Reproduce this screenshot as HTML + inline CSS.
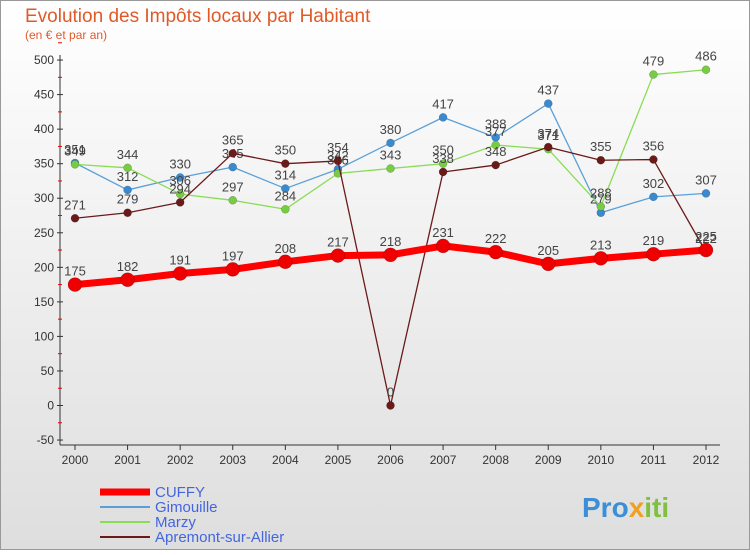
<!DOCTYPE html>
<html><head><meta charset="utf-8"><style>
body{margin:0;width:750px;height:550px;overflow:hidden;font-family:"Liberation Sans",sans-serif}
</style></head><body>
<svg width="750" height="550" xmlns="http://www.w3.org/2000/svg">
<defs><linearGradient id="bg" x1="0" y1="0" x2="0" y2="1"><stop offset="0" stop-color="#ffffff"/><stop offset="1" stop-color="#dedede"/></linearGradient></defs>
<rect x="0.5" y="0.5" width="749" height="549" fill="url(#bg)" stroke="#999"/>
<text x="25" y="22" font-size="19" fill="#e05a28">Evolution des Impôts locaux par Habitant</text>
<text x="25" y="39" font-size="12" fill="#e05a28">(en € et par an)</text>
<g id="axes"></g>
<g id="series"></g>
<g id="legend"></g>
<text x="582" y="517" font-size="28" font-weight="bold" fill="#3b8fd6">Pro<tspan fill="#f0a020">x</tspan><tspan fill="#80c040">iti</tspan></text>
</svg>
<script>
const years=[2000,2001,2002,2003,2004,2005,2006,2007,2008,2009,2010,2011,2012];
const cuffy=[175,182,191,197,208,217,218,231,222,205,213,219,225];
const gimouille=[351,312,330,345,314,342,380,417,388,437,279,302,307];
const marzy=[349,344,306,297,284,336,343,350,377,371,288,479,486];
const apremont=[271,279,294,365,350,354,0,338,348,374,355,356,222];
const yTicks=[-50,0,50,100,150,200,250,300,350,400,450,500];
const NS="http://www.w3.org/2000/svg";
const x=i=>75+i*(706-75)/12;
const y=v=>405.5-v*0.6909;
function el(t,a,p){const e=document.createElementNS(NS,t);for(const k in a)e.setAttribute(k,a[k]);p.appendChild(e);return e;}
const ax=document.getElementById('axes');
let a=el('line',{x1:60,y1:55,x2:60,y2:445,stroke:'#333'},ax);

a=el('line',{x1:60,y1:445,x2:720,y2:445,stroke:'#333'},ax);

yTicks.forEach(v=>{
  el('line',{x1:57,y1:y(v),x2:63,y2:y(v),stroke:'#333'},ax);
  el('line',{x1:58,y1:y(v+25),x2:62,y2:y(v+25),stroke:'#e00'},ax);
  const t=el('text',{x:54,y:y(v)+4,'font-size':12,'text-anchor':'end',fill:'#333'},ax);t.textContent=v;
  
});
years.forEach((yr,i)=>{
  el('line',{x1:x(i),y1:445,x2:x(i),y2:450,stroke:'#333'},ax);
  const t=el('text',{x:x(i),y:464,'font-size':12,'text-anchor':'middle',fill:'#333'},ax);t.textContent=yr;
  
});
const sg=document.getElementById('series');
function series(vals,color,w,r,name,dot){
  const g=el('g',{},sg);
  
  const l=el('polyline',{points:vals.map((v,i)=>x(i)+','+y(v)).join(' '),fill:'none',stroke:color,'stroke-width':w,'stroke-linejoin':'round'},g);
  
  vals.forEach((v,i)=>{
    const c=el('circle',{cx:x(i),cy:y(v),r:r,fill:dot,stroke:'rgba(0,0,0,0.3)','stroke-width':0.5},g);
    
    const t=el('text',{x:x(i),y:y(v)-9,'font-size':13,'text-anchor':'middle',fill:'#444'},g);t.textContent=v;
    
  });
}
series(gimouille,'#5aa0d8',1.3,4,'gimouille','#3a8ad0');
series(marzy,'#88dd55',1.3,4,'marzy','#77cc44');
series(apremont,'#6b1a1a',1.3,4,'apremont','#6b1a1a');
series(cuffy,'#ff0000',7,7,'cuffy','#ee0000');
const lg=document.getElementById('legend');
[['CUFFY','#ff0000',7],['Gimouille','#5aa0d8',2],['Marzy','#88dd55',2],['Apremont-sur-Allier','#6b1a1a',2]].forEach((d,i)=>{
  const yy=492+i*15;
  const g=el('g',{},lg);
  el('line',{x1:100,y1:yy,x2:150,y2:yy,stroke:d[1],'stroke-width':d[2]},g);
  const t=el('text',{x:155,y:yy+5,'font-size':15,fill:'#4466dd'},g);t.textContent=d[0];
});
</script>
</body></html>
